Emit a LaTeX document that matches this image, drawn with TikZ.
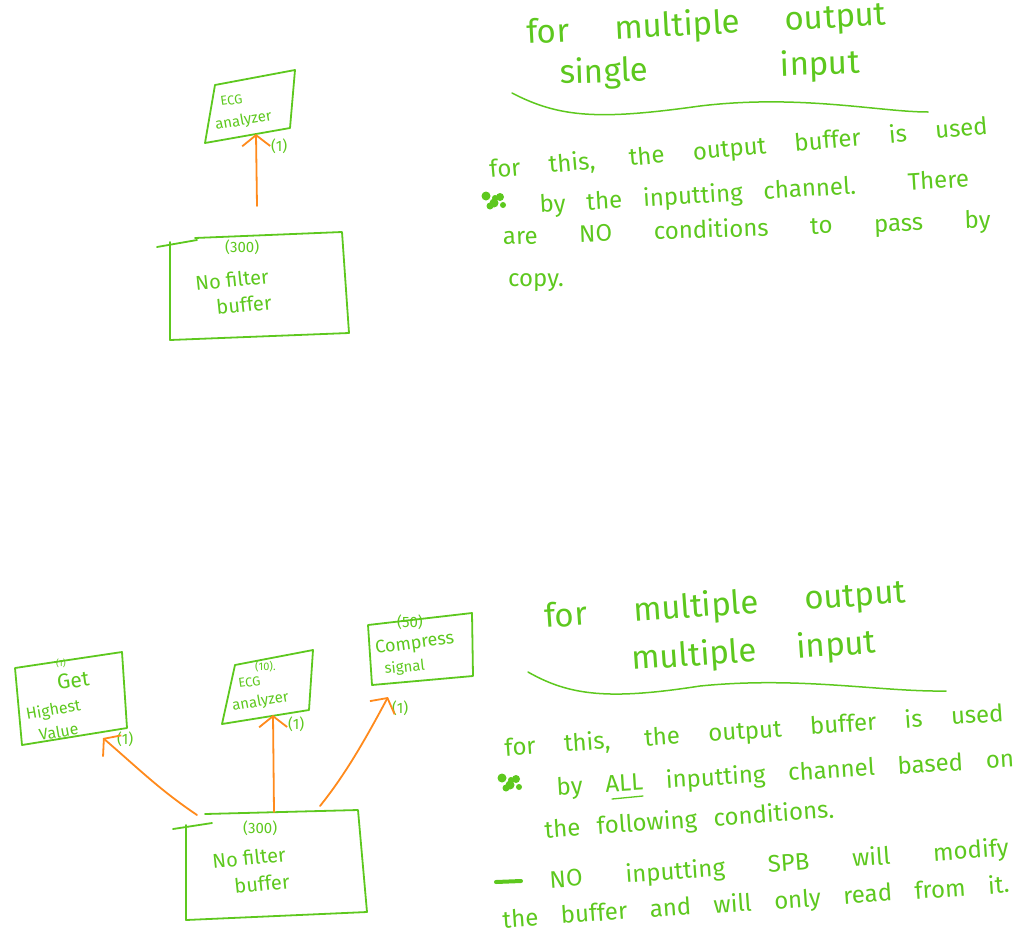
\documentclass[tikz,border=0pt]{standalone}
\usepackage{fontspec}
\setmainfont{Fira Sans}
\usetikzlibrary{arrows.meta}
\definecolor{pen}{HTML}{5DC81E}
\definecolor{org}{HTML}{FF8A1C}
\newcommand\spreadtext[2]{\makebox[#1pt][s]{#2}}
\begin{document}
\begin{tikzpicture}[x=1pt,y=-1pt,line cap=round,line join=round,
  box/.style={draw=pen,line width=1.8pt},
  pentrace/.style={draw=pen,line width=1.8pt},
  arr/.style={draw=org,line width=1.8pt,-{Straight Barb[length=11pt,width=28pt,line width=1.8pt]}},
  hw/.style={text=pen,inner sep=0pt,anchor=base west},
  head/.style={hw,font=\fontsize{33}{36}\selectfont},
  para/.style={hw,font=\fontsize{24}{27}\selectfont},
  lbl/.style={hw,font=\fontsize{13}{15}\selectfont},
  lblb/.style={hw,font=\fontsize{15}{17}\selectfont},
  big/.style={hw,font=\fontsize{20}{23}\selectfont},
  num/.style={hw,font=\fontsize{15}{17}\selectfont}]
\useasboundingbox (0,0) rectangle (1035,943);

% ---------- top diagram ----------
\draw[box] (215,85) -- (295,70) -- (290,128) -- (205,143) -- cycle;
\node[lbl,rotate=8] (ecgA) at (221,106) {ECG};
\node[lblb,rotate=10] (anaA) at (216,130) {analyzer};
\node[num] (oneA) at (271,151) {(1)};
\coordinate (ecgAin) at (256,134);

\draw[box] (170,242) -- (170,340) -- (349,333) -- (342,232) -- (195,238);
\draw[pentrace] (157,247) -- (197,240);
\node[num] (n300A) at (225,252) {(300)};
\node[big,rotate=6] (nfA) at (196,291) {No filter};
\node[big,rotate=6] (bfA) at (217,315) {buffer};
\coordinate (bufAout) at (257,206);
\draw[arr] (bufAout) -- (ecgAin);

% ---------- top text ----------
\node[head,rotate=3] (h1) at (527,44) {\spreadtext{360}{for multiple output}};
\node[head,rotate=2] (h2) at (560,84) {\spreadtext{300}{single input}};
\draw[pentrace,line width=1.5pt] (512,93) .. controls (560,118) and (600,120) .. (700,106) .. controls (800,94) and (880,112) .. (928,112);
\node[para,rotate=5] (p1) at (490,178) {\spreadtext{500}{for this, the output buffer is used}};
\node[para,rotate=3.5] (p2) at (540,213) {\spreadtext{430}{by the inputting channel. There}};
\node[para,rotate=2] (p3) at (503,245) {\spreadtext{488}{are NO conditions to pass by}};
\node[para] (p4) at (508,286) {copy.};
\fill[pen] (486,196) circle (4.5) (494,203) circle (4.5) (500,197) circle (4) (490,206) circle (3.5) (503,205) circle (3) (495,198) circle (3);

% ---------- bottom diagram ----------
\draw[box] (15,668) -- (122,652) -- (127,728) -- (22,745) -- cycle;
\node[hw,font=\fontsize{9}{10}\selectfont] (g1) at (56,666) {(1)};
\node[big,font=\fontsize{21}{24}\selectfont,rotate=8] (getB) at (58,690) {Get};
\node[big,font=\fontsize{16}{18}\selectfont,rotate=10] (hiB) at (27,720) {Highest};
\node[big,font=\fontsize{16}{18}\selectfont,rotate=10] (vaB) at (40,741) {Value};
\node[num] (oneB1) at (117,744) {(1)};
\coordinate (getBin) at (103,738);

\draw[box] (235,665) -- (313,650) -- (309,710) -- (222,724) -- cycle;
\node[hw,font=\fontsize{11}{12}\selectfont] (tenB) at (255,670) {(10).};
\node[lbl,rotate=8] (ecgB) at (239,688) {ECG};
\node[lblb,rotate=10] (anaB) at (233,711) {analyzer};
\node[num] (oneB2) at (288,729) {(1)};
\coordinate (ecgBin) at (273,715);

\draw[box] (368,625) -- (472,613) -- (473,676) -- (372,685) -- cycle;
\node[num] (fifB) at (397,627) {(50)};
\node[big,font=\fontsize{18}{20}\selectfont,rotate=8] (comB) at (376,654) {Compress};
\node[lblb,rotate=6] (sigB) at (385,674) {signal};
\node[num] (oneB3) at (392,713) {(1)};
\coordinate (comBin) at (388,697);

\draw[box] (186,825) -- (186,920) -- (367,912) -- (358,810) -- (205,814);
\draw[pentrace] (173,829) -- (212,823);
\node[num] (n300B) at (243,833) {(300)};
\node[big,rotate=6] (nfB) at (213,869) {No filter};
\node[big,rotate=6] (bfB) at (235,894) {buffer};
\coordinate (bufBo1) at (197,815);
\coordinate (bufBo2) at (274,812);
\coordinate (bufBo3) at (320,806);
\draw[arr] (bufBo1) .. controls (160,790) and (140,770) .. (getBin);
\draw[arr] (bufBo2) -- (ecgBin);
\draw[arr] (bufBo3) .. controls (345,775) and (365,740) .. (comBin);

% ---------- bottom text ----------
\node[head,rotate=4] (h3) at (545,628) {\spreadtext{362}{for multiple output}};
\node[head,rotate=4] (h4) at (632,670) {\spreadtext{245}{multiple input}};
\draw[pentrace,line width=1.5pt] (528,672) .. controls (570,696) and (610,700) .. (700,686) .. controls (800,676) and (880,692) .. (946,691);
\node[para,rotate=4] (q1) at (505,756) {\spreadtext{500}{for this, the output buffer is used}};
\node[para,rotate=3.5] (q2) at (557,795) {\spreadtext{458}{by ALL inputting channel based on}};
\draw[pentrace,line width=1.3pt] (612,799) -- (643,796);
\node[para,rotate=4] (q3) at (545,838) {\spreadtext{290}{the following conditions.}};
\node[para,rotate=4] (q4) at (550,888) {\spreadtext{460}{NO inputting SPB will modify}};
\draw[pen,line width=4pt] (496,882) -- (521,881);
\node[para,rotate=4] (q5) at (503,928) {\spreadtext{508}{the buffer and will only read from it.}};
\fill[pen] (502,778) circle (4.5) (510,785) circle (4.5) (516,779) circle (4) (506,788) circle (3.5) (519,787) circle (3) (511,780) circle (3);
\end{tikzpicture}
\end{document}
